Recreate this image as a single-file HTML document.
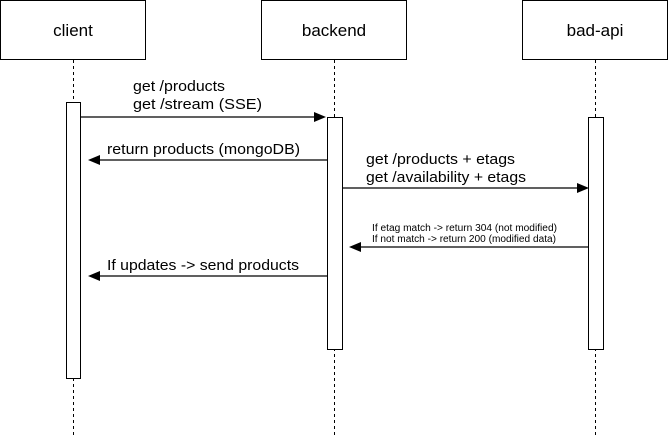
<!DOCTYPE html>
<html><head><style>body{margin:0;background:#fff}</style></head><body>
<svg width="669" height="437" xmlns="http://www.w3.org/2000/svg" font-family="Liberation Sans, Arial, sans-serif">
<rect width="669" height="437" fill="#fff"/>
<g stroke="#000" stroke-width="1" fill="#fff">
<line x1="73.5" y1="60" x2="73.5" y2="437" stroke-dasharray="3 3"/>
<line x1="334.5" y1="60" x2="334.5" y2="437" stroke-dasharray="3 3"/>
<line x1="595.5" y1="60" x2="595.5" y2="437" stroke-dasharray="3 3"/>
<rect x="0.5" y="0.5" width="145" height="59"/>
<rect x="261.5" y="0.5" width="145" height="59"/>
<rect x="522.5" y="0.5" width="145" height="59"/>
<rect x="66.5" y="102.5" width="14" height="276"/>
<rect x="327.5" y="117.5" width="15" height="232"/>
<rect x="588.5" y="117.5" width="15" height="232"/>
</g>
<g font-size="17" text-anchor="middle">
<text x="73" y="36">client</text>
<text x="334" y="36">backend</text>
<text x="595" y="36">bad-api</text>
</g>
<g stroke="#000" stroke-width="1.3">
<line x1="81" y1="117" x2="316" y2="117"/>
<line x1="327" y1="160" x2="98" y2="160"/>
<line x1="343" y1="188" x2="578" y2="188"/>
<line x1="588" y1="247" x2="359" y2="247"/>
<line x1="327" y1="276" x2="98" y2="276"/>
</g>
<g fill="#000">
<polygon points="326,117 314,112 314,122"/>
<polygon points="88,160 100,155 100,165"/>
<polygon points="589,188 577,183 577,193"/>
<polygon points="349,247 361,242 361,252"/>
<polygon points="88,276 100,271 100,281"/>
</g>
<g font-size="15" lengthAdjust="spacingAndGlyphs">
<text x="133" y="91" textLength="92" lengthAdjust="spacingAndGlyphs">get /products</text>
<text x="133" y="109" textLength="129" lengthAdjust="spacingAndGlyphs">get /stream (SSE)</text>
<text x="107" y="154" textLength="193" lengthAdjust="spacingAndGlyphs">return products (mongoDB)</text>
<text x="366" y="164" textLength="149" lengthAdjust="spacingAndGlyphs">get /products + etags</text>
<text x="366" y="182" textLength="160" lengthAdjust="spacingAndGlyphs">get /availability + etags</text>
<text x="107" y="270" textLength="192" lengthAdjust="spacingAndGlyphs">If updates -&gt; send products</text>
</g>
<g font-size="10">
<text x="372" y="231" textLength="185" lengthAdjust="spacingAndGlyphs">If etag match -&gt; return 304 (not modified)</text>
<text x="372" y="242" textLength="184" lengthAdjust="spacingAndGlyphs">If not match -&gt; return 200 (modified data)</text>
</g>
</svg>
</body></html>
